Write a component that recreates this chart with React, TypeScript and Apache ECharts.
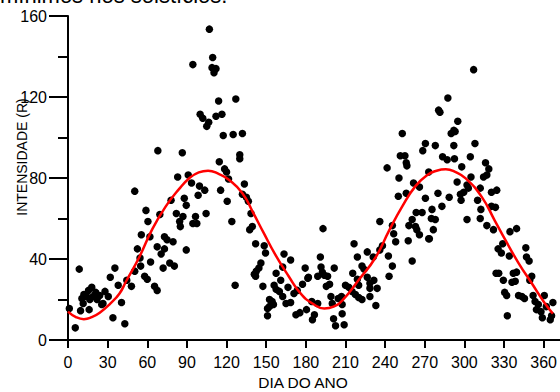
import React, { useEffect, useRef } from "react";
import * as echarts from "echarts";

const xTicks = [0, 30, 60, 90, 120, 150, 180, 210, 240, 270, 300, 330, 360];
const yTicks = [0, 40, 80, 120, 160];

const obsDays = [
  68, 86.5, 83, 91, 50.5, 88, 78, 89.5, 59, 69.5, 82, 87, 84.5, 85, 60.5, 55.5, 62, 73, 75, 79.5,
  67.5, 73, 70.5, 89.5, 52.5, 54.5, 62.5, 72, 77, 80.5, 55, 50.5, 35.5, 32, 44.5, 48, 58, 60, 65.5, 67.5,
  38, 8.5, 40.5, 30.5, 26.5, 24, 21, 19, 15.5, 12, 10.5, 14, 16.5, 22, 25.5, 11.5, 16, 9.5, 1, 34,
  43, 5.5, 28, 18,
  130, 130, 114.5, 118.5, 120, 121.5, 93.5, 99.5, 103.5, 98.5, 133.5, 115.5, 132, 135, 136.5, 120.5, 104.5, 96.5, 94.5, 97.5,
  124, 138.5, 139.5, 137.5, 142, 148.5, 149.5, 163.5, 168.5, 146, 144.5, 142.5, 141, 142, 157.5, 162.5, 161, 166.5, 171, 173.5,
  179.5, 181.5, 177.5, 147.5, 156, 157.5, 160, 162.5, 165, 168.5, 126.5, 152.5, 154.5, 152.5, 151, 155.5, 151, 172.5, 175.5, 180.5,
  270.5, 268.5, 251.5, 255, 256, 256.5, 241.5, 250.5, 261.5, 266, 250, 256, 270.5, 263.5, 268, 260.5, 236, 258, 263, 264,
  245.5, 246.5, 266, 273, 248, 257.5, 193, 216.5, 238, 226.5, 236, 219, 231, 191, 242.5, 191.5, 201.5, 222.5, 224, 245.5,
  260.5, 192.5, 194, 196.5, 189, 182, 215.5, 219, 226.5, 243, 198, 195.5, 210, 212.5, 220, 228.5, 231.5, 234, 228.5, 215,
  217.5, 220, 222.5, 228.5, 233, 207, 204.5, 199, 200, 207.5, 189, 184.5, 186.5, 185, 207.5, 201, 202.5, 209,
  278, 292, 308, 283.5, 287, 292.5, 304.5, 316, 298, 318.5, 273, 305, 317, 314.5, 294.5, 302, 303, 312, 299.5, 297,
  320.5, 324.5, 280, 288.5, 297.5, 310, 283, 275.5, 312.5, 320.5, 323.5, 275, 278, 302, 312, 317, 276.5, 322, 334.5, 339.5,
  273.5, 329, 325.5, 328, 346.5, 334, 347, 349, 326, 324, 337, 339.5, 351, 329.5, 336, 338.5, 349.5, 330.5, 332, 341,
  343.5, 345.5, 352, 360.5, 353.5, 356, 354.5, 367, 362, 358, 359, 365, 366, 332.5,
  107, 109.5, 94.5, 109, 112, 110.5, 114, 127, 100, 102, 106.5, 105, 112, 116.5, 117.5, 125, 132,
  307, 287.5, 280.5, 281.5, 295, 292, 290, 293, 253,
];

const obsIntensity = [
  93.5, 92.5, 80.5, 81.5, 73.5, 70, 69, 66.5, 64, 62, 62.5, 61, 58.5, 56, 58.5, 52, 51, 51, 49.5, 48.5,
  46, 45, 42.5, 44.5, 45, 40.5, 38.5, 35.5, 38, 36.5, 36.5, 34, 35.5, 31, 29.5, 26.5, 31.5, 30, 26.5, 24.5,
  27, 35, 18.5, 21.5, 18, 22, 23.5, 21.5, 24.5, 22.5, 20.5, 21.5, 20, 20, 17.5, 18, 15, 14.5, 15.5, 11,
  8, 6, 24, 26,
  91.5, 89.5, 88, 84.5, 83, 79.5, 77.5, 76, 74, 71.5, 77, 74, 72, 70.5, 68.5, 68.5, 62.5, 61, 57.5, 57.5,
  58.5, 62.5, 56, 54.5, 47.5, 46.5, 43, 42.5, 39.5, 38, 35.5, 34, 32.5, 31.5, 33, 36, 29.5, 26, 23, 24.5,
  35.5, 30.5, 27.5, 26.5, 27, 25, 24, 21.5, 18, 18.5, 27, 20, 19, 16.5, 15.5, 17.5, 12, 12.5, 13.5, 15,
  97, 93.5, 91, 91, 87.5, 86, 85, 80, 77.5, 75.5, 71, 72.5, 70, 63, 63, 59.5, 58.5, 56.5, 56, 54.5,
  56.5, 52.5, 52, 50, 48.5, 49, 55, 47.5, 46.5, 43.5, 44.5, 41, 41, 41, 41.5, 36, 35.5, 36.5, 35, 36.5,
  39, 33.5, 32, 31.5, 31.5, 31, 33, 30, 31, 31.5, 27.5, 26.5, 27, 26, 27, 28, 29.5, 25.5, 25.5, 24,
  22.5, 21, 20, 21.5, 17, 21.5, 20.5, 21.5, 18, 17.5, 18, 19, 12.5, 10, 13, 10.5, 7, 7.5,
  96, 96, 97, 90.5, 89, 89.5, 90.5, 87.5, 85.5, 84.5, 83, 80.5, 81.5, 80.5, 78, 76.5, 75, 75, 73, 72,
  73, 74, 72.5, 70.5, 69, 69, 66, 64.5, 64.5, 66, 65.5, 60, 59.5, 59.5, 60, 56.5, 54.5, 54.5, 53.5, 55,
  50, 47.5, 45, 43, 45.5, 41.5, 41, 39, 33, 33, 33, 33.5, 31.5, 29.5, 28.5, 29, 29.5, 23.5, 22, 22,
  21.5, 20.5, 22, 22, 19, 17.5, 15, 18.5, 16.5, 14, 11, 10, 12, 12,
  153.5, 139.5, 136, 134.5, 134, 132, 118, 119, 111.5, 109.5, 107.5, 105.5, 110.5, 111.5, 101, 101.5, 102,
  133.5, 119.5, 113.5, 112.5, 108, 103.5, 102, 103, 102,
];

const fitDays = [
  0, 6, 12, 18, 24, 32, 39, 44, 54, 64, 74, 84, 92, 99, 106, 114, 122, 132, 140, 148,
  157, 167, 176, 185, 194, 201, 208, 220, 233, 243, 253, 263, 272, 279, 286, 293, 301, 313, 323, 331,
  341, 351, 361, 367,
];
const fitValues = [
  14, 11.3, 10.3, 11.3, 13.5, 18, 23, 29, 41, 55, 66, 74.5, 80, 82.8, 83.6, 82, 79, 72.5, 63, 53,
  42, 31.5, 23, 18, 15.6, 16.5, 19.8, 29.6, 41, 54, 66, 76, 81.5, 83.6, 84.3, 83, 79.8, 70.8, 59, 49.4,
  38, 28, 18, 13,
];

const FONT = 'Arial, "Liberation Sans", sans-serif';

export default function App() {
  const ref = useRef<HTMLDivElement>(null);
  useEffect(() => {
    if (!ref.current) return;
    const chart = echarts.init(ref.current, null, { renderer: "svg" });
    const scatterData = obsDays.map((d, i) => [d, obsIntensity[i]]);
    const fitData = fitDays.map((d, i) => [d, fitValues[i]]);
    chart.setOption({
      animation: false,
      backgroundColor: "#ffffff",
      grid: { left: 68, top: 16, width: 493.3, height: 324, containLabel: false },
      xAxis: {
        type: "value",
        min: 0,
        max: 372,
        interval: 30,
        axisLine: { show: true, onZero: false, lineStyle: { color: "#000", width: 2 } },
        axisTick: { show: true, length: 8, lineStyle: { color: "#000", width: 2 }, customValues: xTicks },
        axisLabel: {
          show: true,
          margin: 14,
          color: "#000",
          fontSize: 16,
          fontFamily: FONT,
          customValues: xTicks,
        },
        splitLine: { show: false },
      },
      yAxis: {
        type: "value",
        min: 0,
        max: 160,
        interval: 40,
        axisLine: { show: true, onZero: false, lineStyle: { color: "#000", width: 2 } },
        axisTick: { show: true, length: 19, lineStyle: { color: "#000", width: 2 } },
        minorTick: { show: true, splitNumber: 2, length: 10, lineStyle: { color: "#000", width: 2 } },
        axisLabel: {
          show: true,
          margin: 21,
          color: "#000",
          fontSize: 16,
          fontFamily: FONT,
          customValues: yTicks,
        },
        splitLine: { show: false },
        minorSplitLine: { show: false },
      },
      series: [
        {
          type: "scatter",
          data: scatterData,
          symbol: "circle",
          symbolSize: 7.5,
          itemStyle: { color: "#000", opacity: 1 },
          silent: true,
          z: 2,
        },
        {
          type: "line",
          data: fitData,
          smooth: 0.5,
          showSymbol: false,
          lineStyle: { color: "#ff0000", width: 2.5 },
          silent: true,
          z: 3,
        },
      ],
      graphic: [
        {
          type: "text",
          x: 0,
          y: 6,
          style: {
            text: "mínimos nos solstícios.",
            fontSize: 22,
            fontFamily: FONT,
            fill: "#000",
            align: "left",
            verticalAlign: "bottom",
          },
        },
        {
          type: "text",
          x: 303,
          y: 382,
          style: {
            text: "DIA DO ANO",
            fontSize: 15.5,
            fontFamily: FONT,
            fill: "#000",
            align: "center",
            verticalAlign: "middle",
          },
        },
        {
          type: "text",
          x: 22,
          y: 157,
          rotation: Math.PI / 2,
          style: {
            text: "INTENSIDADE (R)",
            fontSize: 14,
            fontFamily: FONT,
            fill: "#000",
            align: "center",
            verticalAlign: "middle",
          },
        },
      ],
    });
    return () => chart.dispose();
  }, []);
  return <div ref={ref} style={{ width: 560, height: 392, position: "absolute", left: 0, top: 0 }} />;
}
